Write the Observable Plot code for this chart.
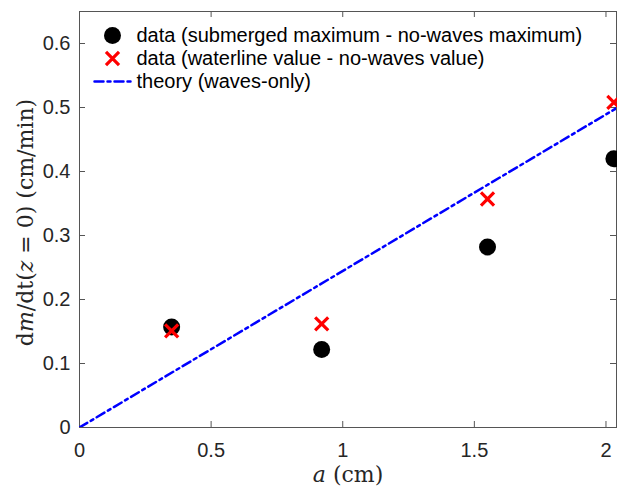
<!DOCTYPE html>
<html>
<head>
<meta charset="utf-8">
<script src="https://cdn.jsdelivr.net/npm/d3@7"></script>
<script src="https://cdn.jsdelivr.net/npm/@observablehq/plot@0.6"></script>
<style>
  html, body { margin: 0; padding: 0; background: #fff; }
  #chart svg { display: block; }
</style>
</head>
<body>
<div id="chart"></div>
<script>
// amplitude a (cm)
const aValues = [0.35, 0.92, 1.55, 2.03];
// submerged maximum - no-waves maximum
const submerged = [0.157, 0.122, 0.282, 0.420];
// waterline value - no-waves value
const waterline = [0.151, 0.162, 0.357, 0.508];
// theory (waves-only) line endpoints
const theoryA = [0, 2.04];
const theoryM = [0, 0.499];
const xTicks = [0, 0.5, 1, 1.5, 2];
const yTicks = [0, 0.1, 0.2, 0.3, 0.4, 0.5, 0.6];
const legendLabels = [
  "data (submerged maximum - no-waves maximum)",
  "data (waterline value - no-waves value)",
  "theory (waves-only)"
];
const xLabel = "a (cm)";
const yLabel = "dm/dt(z = 0) (cm/min)";

const subData = aValues.map((a, i) => ({a, v: submerged[i]}));
const wlData = aValues.map((a, i) => ({a, v: waterline[i]}));
const theory = theoryA.map((a, i) => ({a, v: theoryM[i]}));

const W = 617, H = 487, ML = 79, MR = 1, MT = 11, MB = 60;
const innerW = W - ML - MR, innerH = H - MT - MB, TL = 6;
const axisColor = "#262626";
const lineColor = "#555";
const sans = "'Liberation Sans', Arial, Helvetica, sans-serif";
const serif = "'DejaVu Serif', serif";
const tickFont = {fontFamily: sans, fontSize: 20, fill: axisColor};

const plot = Plot.plot({
  width: W,
  height: H,
  marginLeft: ML,
  marginRight: MR,
  marginTop: MT,
  marginBottom: MB,
  style: {background: "#fff", fontFamily: sans, fontSize: "20px", color: axisColor},
  x: {domain: [0, 2.04]},
  y: {domain: [0, 0.65]},
  marks: [
    Plot.frame({stroke: lineColor, strokeWidth: 1}),
    Plot.axisX(xTicks, {anchor: "bottom", tickSize: 0, tickPadding: 15, label: null, tickFormat: d => String(d), ...tickFont}),
    Plot.axisY(yTicks, {anchor: "left", tickSize: 0, tickPadding: 9, label: null, tickFormat: d => String(d), ...tickFont}),
    // inward ticks on all four sides
    Plot.tickX(xTicks, {x: d => d, insetTop: innerH - TL, stroke: lineColor}),
    Plot.tickX(xTicks, {x: d => d, insetBottom: innerH - TL, stroke: lineColor}),
    Plot.tickY(yTicks, {y: d => d, insetRight: innerW - TL, stroke: lineColor}),
    Plot.tickY(yTicks, {y: d => d, insetLeft: innerW - TL, stroke: lineColor}),
    Plot.line(theory, {x: "a", y: "v", stroke: "#0000ff", strokeWidth: 2.5, strokeDasharray: "9,4,3,4", clip: true}),
    Plot.dot(subData, {x: "a", y: "v", r: 8.5, fill: "black", stroke: "none"}),
    Plot.dot(wlData, {x: "a", y: "v", r: 6, symbol: "times", stroke: "#ff0000", strokeWidth: 3.2}),
    // legend
    Plot.dot([legendLabels[0]], {frameAnchor: "top-left", dx: 33, dy: 24, r: 8.5, fill: "black", stroke: "none"}),
    Plot.dot([legendLabels[1]], {frameAnchor: "top-left", dx: 33, dy: 47, r: 6, symbol: "times", stroke: "#ff0000", strokeWidth: 3.2}),
    Plot.vector([legendLabels[2]], {frameAnchor: "top-left", dx: 15, dy: 70, length: 38, rotate: 90, anchor: "start",
      stroke: "#0000ff", strokeWidth: 2.5, strokeDasharray: "9,4,3,4",
      shape: {draw(context, l) { context.moveTo(0, 0); context.lineTo(0, -l); }}}),
    Plot.text([legendLabels[0]], {frameAnchor: "top-left", dx: 57, dy: 24, lineAnchor: "middle", textAnchor: "start", fill: "#000", fontSize: 20}),
    Plot.text([legendLabels[1]], {frameAnchor: "top-left", dx: 57, dy: 47, lineAnchor: "middle", textAnchor: "start", fill: "#000", fontSize: 20}),
    Plot.text([legendLabels[2]], {frameAnchor: "top-left", dx: 57, dy: 70, lineAnchor: "middle", textAnchor: "start", fill: "#000", fontSize: 20}),
    // axis labels
    Plot.text([xLabel], {frameAnchor: "bottom", dy: 47, lineAnchor: "middle", textAnchor: "middle", fontFamily: serif, fontSize: 22, fill: axisColor, className: "xlab"}),
    Plot.text([yLabel], {frameAnchor: "left", dx: -54, dy: 3, rotate: -90, lineAnchor: "middle", textAnchor: "middle", fontFamily: serif, fontSize: 22, fill: axisColor, className: "ylab"}),
  ]
});

// italicize math variables (m, z, a) in the axis labels
function styleMath(sel, parts) {
  const t = d3.select(plot).select(sel).select("text");
  if (t.empty()) return;
  t.text(null);
  for (const [s, it] of parts) {
    const ts = t.append("tspan").text(s);
    if (it) ts.attr("font-style", "italic");
  }
}
styleMath(".xlab", [["a", true], ["\u00a0(cm)", false]]);
styleMath(".ylab", [["d", false], ["m", true], ["/dt(", false], ["z", true], ["\u00a0=\u00a00)\u00a0(cm/min)", false]]);

document.getElementById("chart").append(plot);
</script>
</body>
</html>
